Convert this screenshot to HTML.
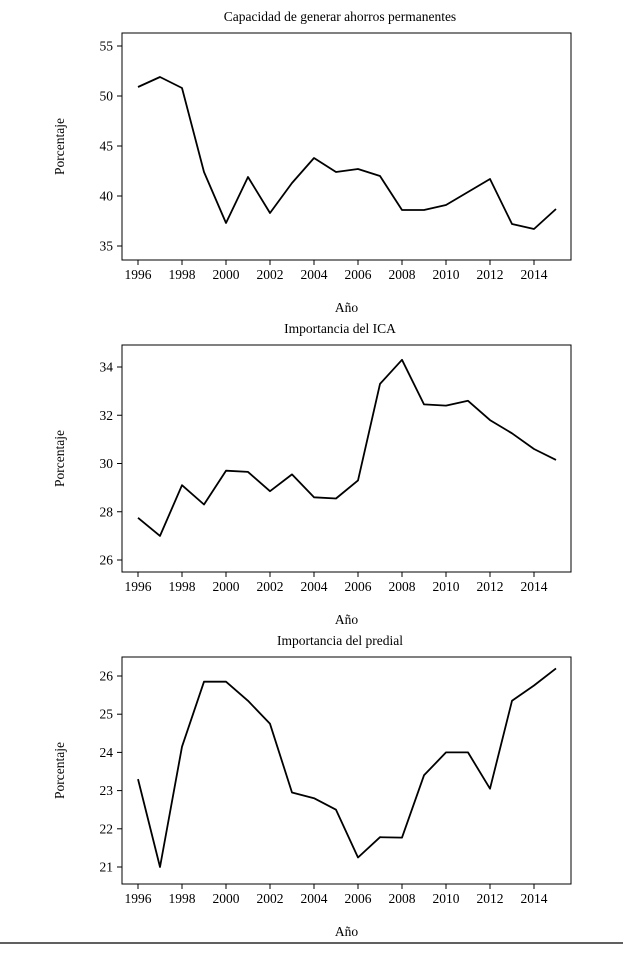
<!DOCTYPE html>
<html><head><meta charset="utf-8"><style>
body{margin:0;background:#fff;}
svg text{font-family:"Liberation Serif",serif;font-size:13.5px;fill:#000;}
</style></head><body>
<svg id="chart" width="623" height="950" xmlns="http://www.w3.org/2000/svg"></svg>
<script>
const years=[1996,1997,1998,1999,2000,2001,2002,2003,2004,2005,2006,2007,2008,2009,2010,2011,2012,2013,2014,2015];
const xTicks=[1996,1998,2000,2002,2004,2006,2008,2010,2012,2014];
const ahorros=[50.9,51.9,50.8,42.4,37.3,41.9,38.3,41.3,43.8,42.4,42.7,42.0,38.6,38.6,39.1,40.4,41.7,37.2,36.7,38.7];
const ica=[27.75,27.0,29.1,28.3,29.7,29.65,28.85,29.55,28.6,28.55,29.3,33.3,34.3,32.45,32.4,32.6,31.8,31.25,30.6,30.15];
const predial=[23.3,21.0,24.15,25.85,25.85,25.35,24.75,22.95,22.8,22.5,21.25,21.78,21.77,23.4,24.0,24.0,23.05,25.35,25.75,26.2];
const ticks1=[35,40,45,50,55];
const ticks2=[26,28,30,32,34];
const ticks3=[21,22,23,24,25,26];
const titles=["Capacidad de generar ahorros permanentes","Importancia del ICA","Importancia del predial"];

const NS="http://www.w3.org/2000/svg";
const svg=document.getElementById('chart');
function mk(tag,attrs,parent){const e=document.createElementNS(NS,tag);for(const k in attrs)e.setAttribute(k,attrs[k]);(parent||svg).appendChild(e);return e;}
const L=122,R=571;
const xScale=y=>138+(y-1996)*22;
const panels=[
 {vals:ahorros,ticks:ticks1,top:33,bot:260,v0:55,p0:46,v1:35,p1:246,name:'ahorros'},
 {vals:ica,ticks:ticks2,top:345,bot:572,v0:34,p0:367,v1:26,p1:560,name:'ica'},
 {vals:predial,ticks:ticks3,top:657,bot:884,v0:26,p0:676,v1:21,p1:867,name:'predial'}
];
panels.forEach((p,i)=>{
 const g=mk('g',{});
 
 
 const ys=v=>p.p0+(v-p.v0)*(p.p1-p.p0)/(p.v1-p.v0);
 const t=mk('text',{x:340,y:p.top-12,'text-anchor':'middle','font-size':'14.5px'},g);t.textContent=titles[i];
 
 
 const box=mk('rect',{x:L,y:p.top,width:R-L,height:p.bot-p.top,fill:'none',stroke:'#000','stroke-width':1},g);
 
 
 p.ticks.forEach(v=>{
  const y=ys(v);
  mk('line',{x1:L-5,x2:L,y1:y,y2:y,stroke:'#000'},g);
  const tx=mk('text',{x:L-9,y:y+4.5,'text-anchor':'end'},g);tx.textContent=v;
  
  
 });
 xTicks.forEach(v=>{
  const x=xScale(v);
  mk('line',{x1:x,x2:x,y1:p.bot,y2:p.bot+5,stroke:'#000'},g);
  const tx=mk('text',{x:x,y:p.bot+19,'text-anchor':'middle'},g);tx.textContent=v;
  
  
 });
 const xl=mk('text',{x:(L+R)/2,y:p.bot+52,'text-anchor':'middle'},g);xl.textContent='Año';
 
 
 const cy=(p.top+p.bot)/2;
 const yl=mk('text',{x:64,y:cy,'text-anchor':'middle',transform:`rotate(-90 64 ${cy})`},g);yl.textContent='Porcentaje';
 
 
 const pts=p.vals.map((v,j)=>xScale(years[j]).toFixed(1)+','+ys(v).toFixed(1)).join(' ');
 const line=mk('polyline',{points:pts,fill:'none',stroke:'#000','stroke-width':1.8,'stroke-linejoin':'round'},g);
 
 
});
const bl=mk('line',{x1:0,x2:623,y1:943,y2:943,stroke:'#000','stroke-width':1.2});


</script>
</body></html>
